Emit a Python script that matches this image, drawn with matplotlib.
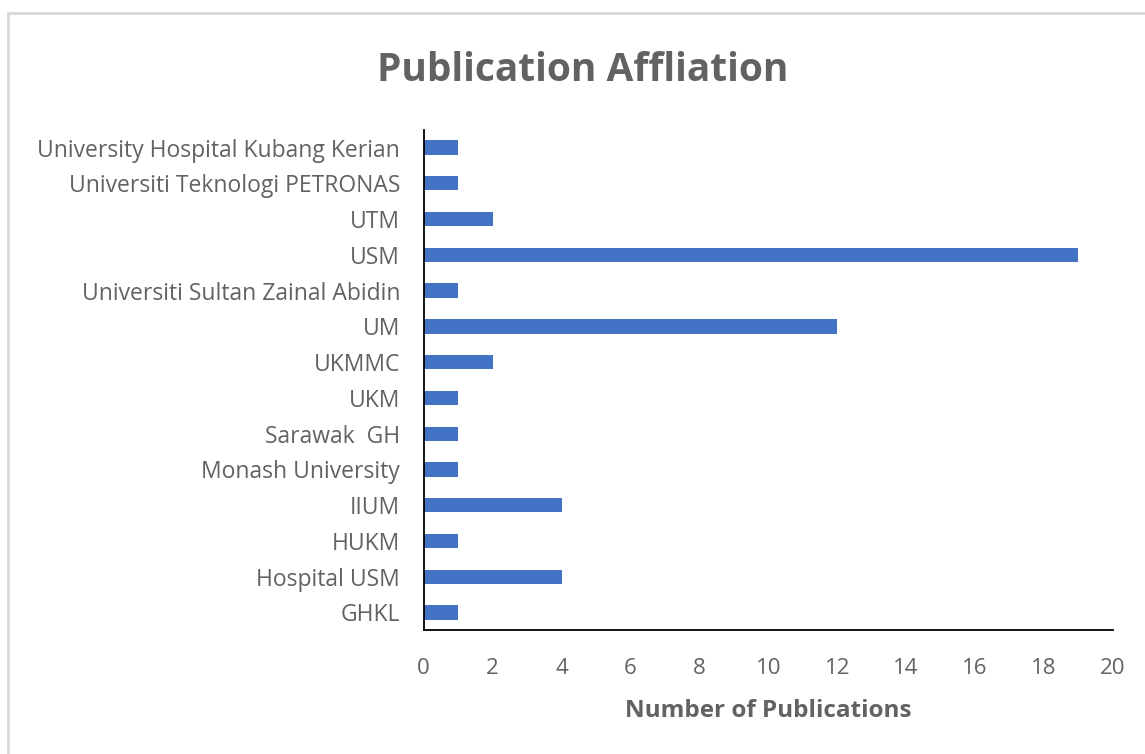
import matplotlib
matplotlib.use('Agg')
import matplotlib.pyplot as plt
from matplotlib.lines import Line2D

plt.rcParams['font.family'] = ['Open Sans', 'DejaVu Sans']

affiliations = ["GHKL", "Hospital USM", "HUKM", "IIUM", "Monash University",
                "Sarawak  GH", "UKM", "UKMMC", "UM", "Universiti Sultan Zainal Abidin",
                "USM", "UTM", "Universiti Teknologi PETRONAS",
                "University Hospital Kubang Kerian"]
publications = [1, 4, 1, 4, 1, 1, 1, 2, 12, 1, 19, 2, 1, 1]
x_ticks = [0, 2, 4, 6, 8, 10, 12, 14, 16, 18, 20]

TXT = '#626262'

fig = plt.figure(figsize=(11.45, 7.54), dpi=100)
ax = fig.add_axes([0.370, 0.164, 0.602, 0.664])
ax.barh(range(len(affiliations)), publications, height=0.4, color='#4472C4')
ax.set_ylim(-0.5, len(affiliations) - 0.5)
ax.set_xlim(0, 20)
ax.set_yticks(range(len(affiliations)))
ax.set_yticklabels(affiliations, fontsize=16.5, color=TXT)
ax.set_xticks(x_ticks)
ax.set_xticklabels([str(t) for t in x_ticks], fontsize=16, color=TXT)
ax.tick_params(length=0)
ax.tick_params(axis='y', pad=17)
ax.tick_params(axis='x', pad=20)
for s in ['top', 'right']:
    ax.spines[s].set_visible(False)
for s in ['left', 'bottom']:
    ax.spines[s].set_color('black')
    ax.spines[s].set_linewidth(1.3)
ax.set_xlabel('Number of Publications', fontsize=17.5, fontweight='bold', color=TXT, labelpad=14)
fig.text(0.509, 0.906, 'Publication Affliation', fontsize=28, fontweight='bold',
         color=TXT, ha='center', va='center')

# light frame on the top and left edges only
fig.add_artist(Line2D([0.007, 0.007], [0.0, 0.983], transform=fig.transFigure,
                      color='#d9d9d9', linewidth=2))
fig.add_artist(Line2D([0.007, 1.0], [0.983, 0.983], transform=fig.transFigure,
                      color='#d9d9d9', linewidth=2))

fig.savefig('out.png', dpi=100)
